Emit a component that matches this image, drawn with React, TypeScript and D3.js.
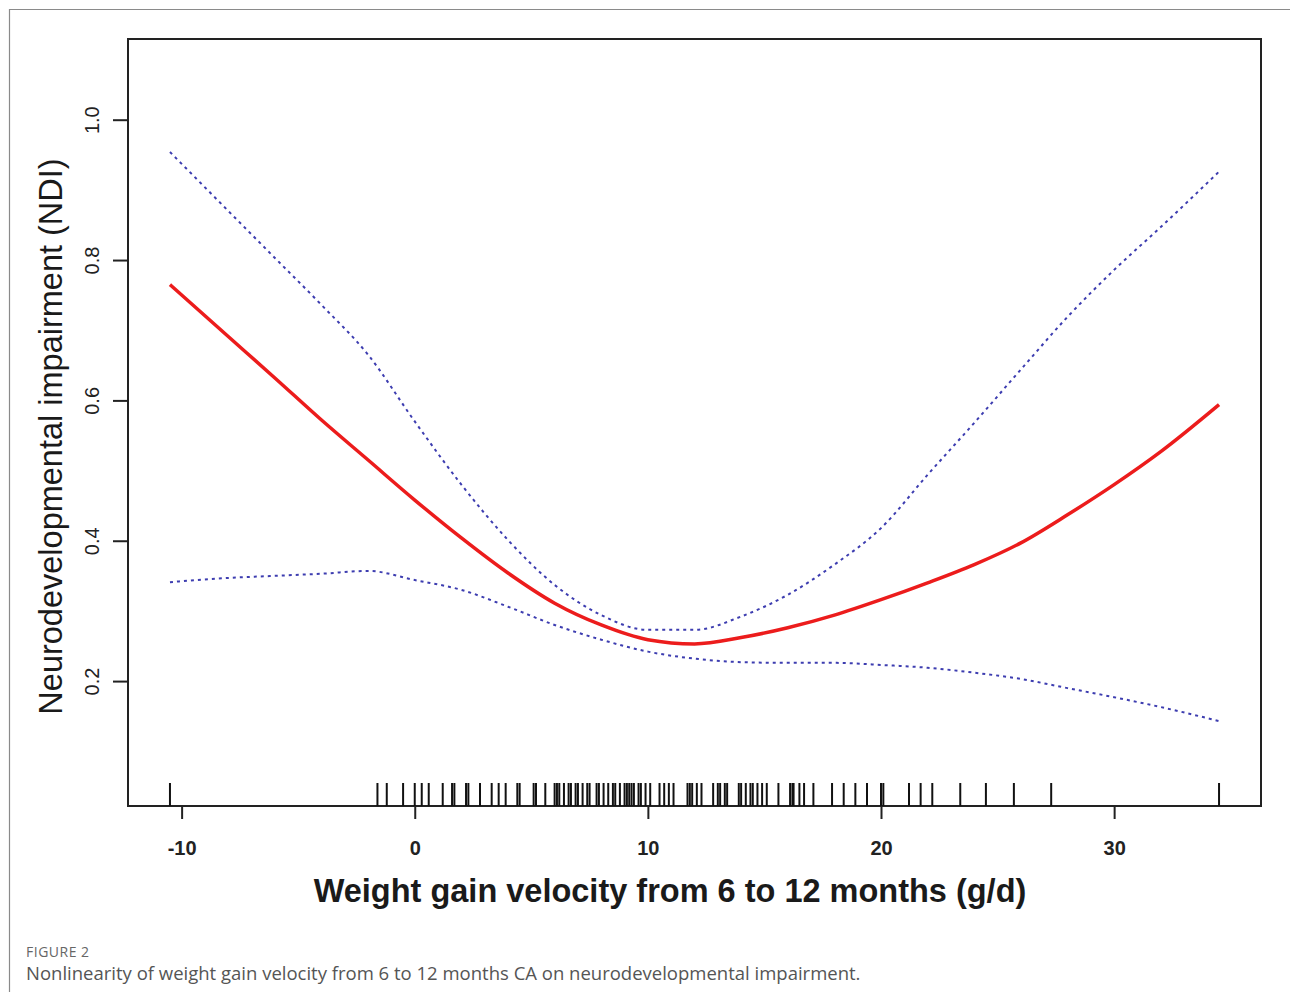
import React, { useRef, useEffect } from 'react';
import * as d3 from 'd3';

// fitted curve and 95% CI
const xGrid = [-10.5, -8, -6, -4, -2, 0, 2, 4, 6, 8, 10, 12, 14, 16, 18, 20, 22, 24, 26, 28, 30, 32, 34.5];
const fitValues = [0.765, 0.691, 0.632, 0.572, 0.515, 0.458, 0.404, 0.354, 0.311, 0.280, 0.259, 0.253, 0.262, 0.276, 0.294, 0.316, 0.340, 0.366, 0.397, 0.437, 0.480, 0.527, 0.594];
const upperValues = [0.954, 0.870, 0.803, 0.736, 0.665, 0.570, 0.480, 0.401, 0.337, 0.294, 0.273, 0.273, 0.292, 0.323, 0.366, 0.418, 0.494, 0.568, 0.644, 0.719, 0.786, 0.847, 0.926];
const lowerValues = [0.341, 0.347, 0.350, 0.353, 0.357, 0.344, 0.330, 0.306, 0.280, 0.259, 0.242, 0.232, 0.227, 0.226, 0.226, 0.223, 0.219, 0.212, 0.203, 0.190, 0.177, 0.163, 0.143];

// rug of observed weight gain velocities
const rugValues = [
    -10.5, -1.6, -1.2, -0.5, 0, 0.3, 0.6, 1.2, 1.6, 1.7, 2.2, 2.3, 2.8, 3.3, 3.6, 3.9, 4.4, 4.5,
    5.1, 5.2, 5.6, 6.0, 6.1, 6.2, 6.4, 6.6, 6.7, 6.9, 7.0, 7.2, 7.4, 7.5, 7.8, 7.9, 8.1, 8.3, 8.5,
    8.6, 8.8, 9.0, 9.1, 9.2, 9.3, 9.4, 9.6, 9.7, 9.9, 10.1, 10.5, 10.7, 10.9, 11.1, 11.7, 11.8,
    11.9, 12.1, 12.3, 12.8, 13.0, 13.1, 13.3, 13.4, 13.9, 14.0, 14.2, 14.4, 14.5, 14.7, 14.9, 15.1,
    15.6, 16.1, 16.2, 16.25, 16.5, 16.7, 17.1, 17.9, 18.4, 18.9, 19.4, 20.0, 20.1, 21.2, 21.7,
    22.2, 23.4, 24.5, 25.7, 27.3, 34.5
];

const xTicks = [-10, 0, 10, 20, 30];
const yTicks = [0.2, 0.4, 0.6, 0.8, 1.0];

const App = () => {
    const chartRef = useRef<SVGSVGElement>(null);

    useEffect(() => {
        const width = 1290;
        const height = 992;
        const left = 128, right = 1261, top = 39, bottom = 806;

        const svg = d3.select(chartRef.current);
        svg.selectAll('*').remove();

        const x = d3.scaleLinear().domain([-12.3, 36.3]).range([left, right]);
        const y = d3.scaleLinear().domain([0.022, 1.115]).range([bottom, top]);

        // outer frame of the figure panel
        svg.append('path')
            .attr('d', `M9.5,${height} V9.5 H${width}`)
            .attr('fill', 'none')
            .attr('stroke', '#8a8a8a')
            .attr('stroke-width', 1.2);

        // plot box
        svg.append('rect')
            .attr('x', left).attr('y', top)
            .attr('width', right - left).attr('height', bottom - top)
            .attr('fill', 'none')
            .attr('stroke', '#222')
            .attr('stroke-width', 2);

        // x axis (plain hyphen for negatives, like R)
        const gx = svg.append('g')
            .attr('transform', `translate(0,${bottom})`)
            .call(d3.axisBottom(x).tickValues(xTicks).tickFormat(d => String(d)).tickSize(13).tickSizeOuter(0));
        gx.select('.domain').remove();
        gx.selectAll('line').attr('stroke', '#222').attr('stroke-width', 2);
        gx.selectAll('text')
            .attr('y', 49).attr('dy', 0)
            .attr('fill', '#222')
            .style('font', 'bold 20px "Liberation Sans", Arial, sans-serif');

        // y axis
        const gy = svg.append('g')
            .attr('transform', `translate(${left},0)`)
            .call(d3.axisLeft(y).tickValues(yTicks).tickFormat(d3.format('.1f')).tickSize(15).tickSizeOuter(0));
        gy.select('.domain').remove();
        gy.selectAll('line').attr('stroke', '#222').attr('stroke-width', 2);
        gy.selectAll('text')
            .attr('x', 0).attr('dy', 0)
            .attr('text-anchor', 'middle')
            .attr('transform', 'translate(-29,0) rotate(-90)')
            .attr('fill', '#222')
            .style('font', '20px "Liberation Sans", Arial, sans-serif');

        // axis titles
        svg.append('text')
            .attr('x', 670).attr('y', 902)
            .attr('text-anchor', 'middle')
            .attr('fill', '#1a1a1a')
            .style('font', 'bold 32.5px "Liberation Sans", Arial, sans-serif')
            .text('Weight gain velocity from 6 to 12 months (g/d)');

        svg.append('text')
            .attr('transform', `translate(62,${(160 + 713) / 2}) rotate(-90)`)
            .attr('text-anchor', 'middle')
            .attr('fill', '#1a1a1a')
            .style('font', '32.5px "Liberation Sans", Arial, sans-serif')
            .text('Neurodevelopmental impairment (NDI)');

        // rug
        svg.append('g')
            .selectAll('line')
            .data(rugValues)
            .join('line')
            .attr('x1', d => x(d)).attr('x2', d => x(d))
            .attr('y1', bottom - 23).attr('y2', bottom)
            .attr('stroke', '#111')
            .attr('stroke-width', 2);

        const line = (vals: number[]) => d3.line<number>()
            .x((_, i) => x(xGrid[i]))
            .y(d => y(d))
            .curve(d3.curveMonotoneX)(vals);

        // confidence bands
        [upperValues, lowerValues].forEach(vals => {
            svg.append('path')
                .attr('d', line(vals))
                .attr('fill', 'none')
                .attr('stroke', '#3d3db0')
                .attr('stroke-width', 2)
                .attr('stroke-dasharray', '3,4');
        });

        // fitted curve
        svg.append('path')
            .attr('d', line(fitValues))
            .attr('fill', 'none')
            .attr('stroke', '#ec1c1c')
            .attr('stroke-width', 3.5);

        // caption
        svg.append('text')
            .attr('x', 26).attr('y', 957)
            .attr('fill', '#666')
            .style('font', '14px "Open Sans", sans-serif')
            .style('letter-spacing', '0.5px')
            .text('FIGURE 2');

        svg.append('text')
            .attr('x', 26).attr('y', 980)
            .attr('fill', '#555')
            .style('font', '18.5px "Open Sans", sans-serif')
            .text('Nonlinearity of weight gain velocity from 6 to 12 months CA on neurodevelopmental impairment.');
    }, []);

    return (
        <svg
            ref={chartRef}
            width={1290}
            height={992}
            style={{ position: 'absolute', left: 0, top: 0, background: '#fff' }}
        />
    );
};

export default App;
